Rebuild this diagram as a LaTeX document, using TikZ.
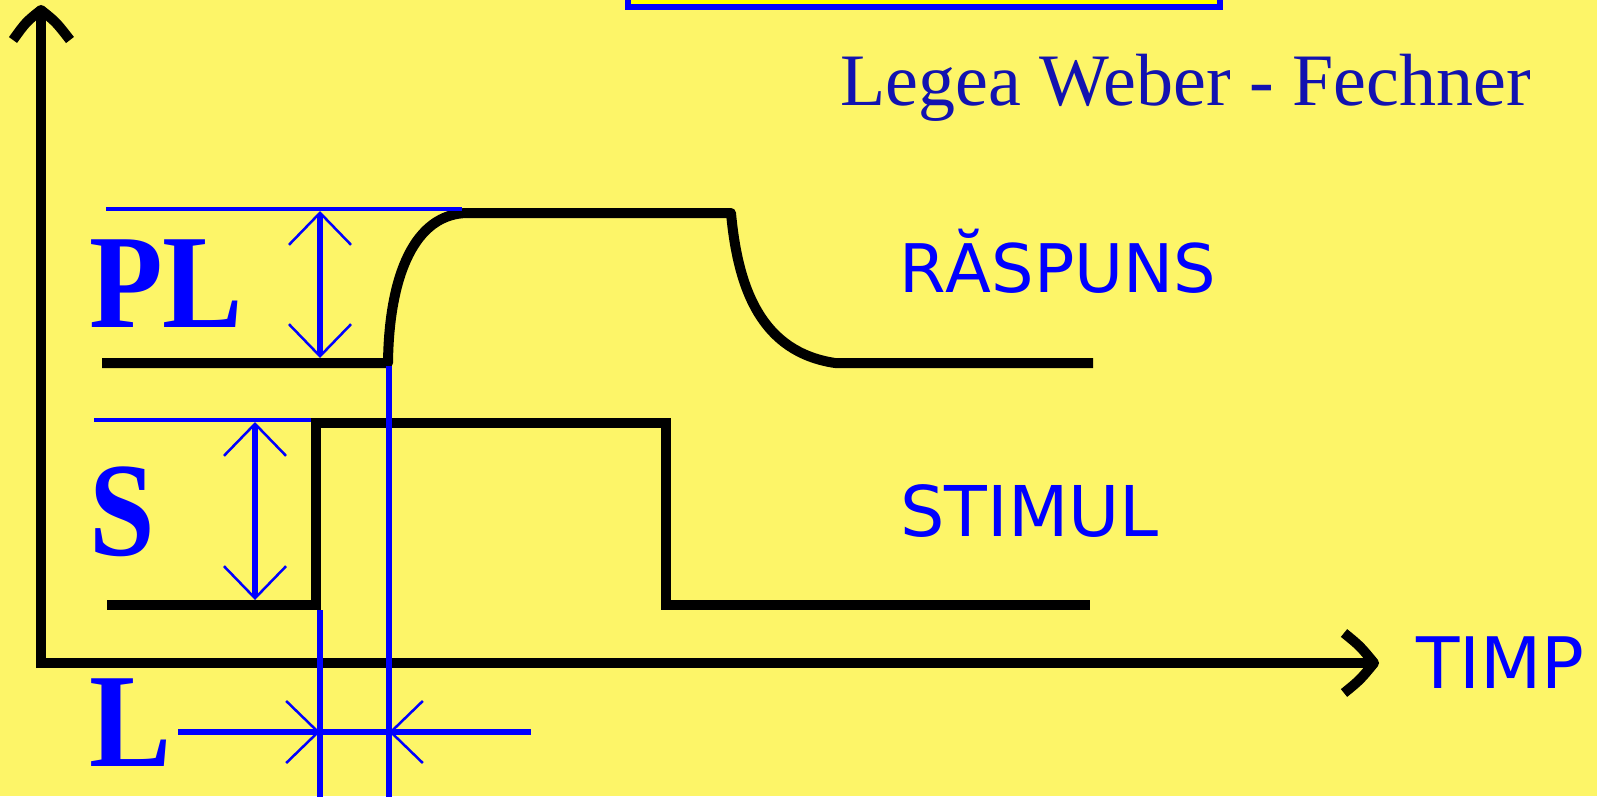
\documentclass[tikz,border=0pt]{standalone}
\usepackage{fontspec}
\usepackage{graphicx}
\setmainfont{Liberation Serif}
\newfontfamily\lblfont{DejaVu Sans}
\usetikzlibrary{arrows.meta}
\definecolor{bg}{RGB}{253,245,104}
\definecolor{pureblue}{RGB}{0,0,255}
\definecolor{titleblue}{RGB}{18,18,176}
\definecolor{boxfill}{RGB}{255,255,0}
\tikzset{
  curve/.style={line width=10pt, line join=round, black},
  axis/.style={line width=10pt, black, line join=round},
  refline/.style={pureblue, line width=4pt},
  guide/.style={pureblue, line width=6pt},
  dimtip/.tip={Straight Barb[length=32pt,width=62pt,line width=2.5pt]},
  dimline/.style={pureblue, line width=6pt},
  lbl/.style={text=pureblue, inner sep=0pt, anchor=base west},
  big/.style={text=pureblue, inner sep=0pt, anchor=base west, font={\fontsize{134}{140}\selectfont\bfseries}},
}
\begin{document}
\begin{tikzpicture}[x=1pt,y=-1pt]
\useasboundingbox (0,0) rectangle (1597,796);
\fill[bg] (0,0) rectangle (1597,796);
\begin{scope}
\clip (0,0) rectangle (1597,796);
% top box
\draw[pureblue, line width=6pt, fill=boxfill] (628,-30) rectangle (1220,7);
% axes
\coordinate (origin) at (41,663);
\coordinate (ytop) at (41,10);
\coordinate (xend) at (1374,663);
\draw[axis] (41,668) -- (ytop);
\draw[axis] (36,663) -- (xend);
\draw[axis] (13,40) .. controls (26,22) .. (ytop) .. controls (56,22) .. (70,40);
\draw[axis] (1344,633) .. controls (1360,646) .. (xend) .. controls (1360,680) .. (1344,693);
% response
\coordinate (r0) at (102,363);
\coordinate (r1) at (388,363);
\coordinate (r2) at (468,213);
\coordinate (r3) at (731,213);
\coordinate (r4) at (835,363);
\coordinate (r5) at (1093,363);
\draw[curve] (r0) -- (r1) .. controls (389,275) and (415,213) .. (r2) -- (r3)
  .. controls (738,290) and (762,352) .. (r4) -- (r5);
% stimulus
\coordinate (s0) at (107,605);
\coordinate (s1) at (316,605);
\coordinate (s2) at (316,423);
\coordinate (s3) at (666,423);
\coordinate (s4) at (666,605);
\coordinate (s5) at (1090,605);
\draw[curve, line join=miter] (s0) -- (s1) -- (s2) -- (s3) -- (s4) -- (s5);
% blue reference lines
\coordinate (pla) at (106,209);
\coordinate (plb) at (462,209);
\draw[refline] (pla) -- (plb);
\coordinate (sa) at (94,420);
\coordinate (sb) at (311,420);
\draw[refline] (sa) -- (sb);
% dimension arrows
\coordinate (pltop) at (320,211);
\coordinate (plbot) at (320,358);
\draw[dimline, dimtip-dimtip] (pltop) -- (plbot);
\coordinate (stop) at (255,422);
\coordinate (sbot) at (255,600);
\draw[dimline, dimtip-dimtip] (stop) -- (sbot);
% guides
\coordinate (g1a) at (320,610);
\coordinate (g1b) at (320,800);
\coordinate (g2a) at (389,366);
\coordinate (g2b) at (389,800);
\draw[guide] (g1a) -- (g1b);
\draw[guide] (g2a) -- (g2b);
% latency
\coordinate (la) at (178,732);
\coordinate (lb) at (531,732);
\draw[dimline] (la) -- (lb);
\coordinate (l1) at (284,732);
\coordinate (l1t) at (320,732);
\coordinate (l2) at (425,732);
\coordinate (l2t) at (389,732);
\draw[dimline, -dimtip] (l1) -- (l1t);
\draw[dimline, -dimtip] (l2) -- (l2t);
\end{scope}
% texts
\node[anchor=base west, inner sep=0pt, text=titleblue, font={\fontsize{74}{80}\selectfont}] (title) at (840,105) {Legea Weber - Fechner};
\node[big] (pl) at (89,327) {\scalebox{0.9}[1]{PL}};
\node[big] (s) at (89,555) {\scalebox{0.88}[1]{S}};
\node[big] (l) at (89,766) {\scalebox{0.92}[1]{L}};
\node[lbl, font={\lblfont\fontsize{67}{70}\selectfont}] (raspuns) at (899,292) {RĂSPUNS};
\node[lbl, font={\lblfont\fontsize{70}{74}\selectfont}] (stimul) at (900,536) {STIMUL};
\node[lbl, font={\lblfont\fontsize{71}{74}\selectfont}] (timp) at (1416,688) {TIMP};
\end{tikzpicture}
\end{document}
